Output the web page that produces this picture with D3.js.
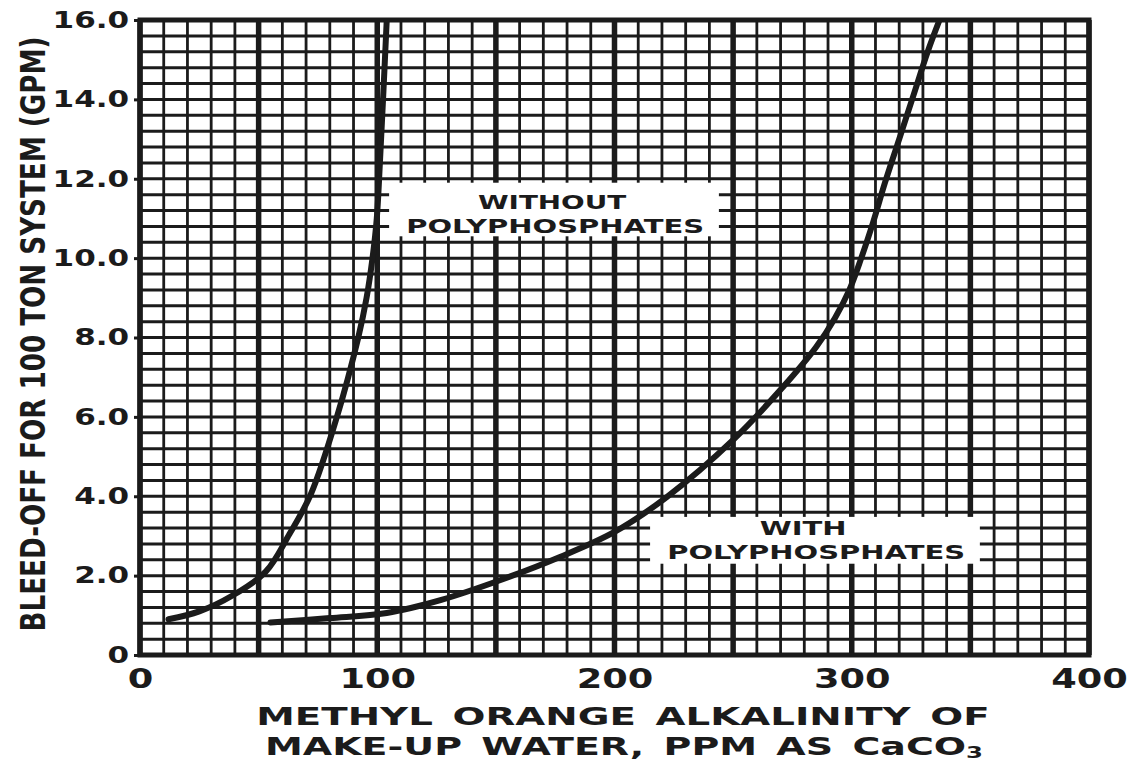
<!DOCTYPE html>
<html><head><meta charset="utf-8">
<script src="https://cdn.jsdelivr.net/npm/d3@7"></script>
<style>body{margin:0;background:#fff} svg{display:block}</style>
</head><body><svg id="c" width="1138" height="766"></svg>
<script>
// ---- data ----
const xTicks = [0, 100, 200, 300, 400];
const xTickLabels = ["0", "100", "200", "300", "400"];
const yTicks = [0, 2, 4, 6, 8, 10, 12, 14, 16];
const yTickLabels = ["0", "2.0", "4.0", "6.0", "8.0", "10.0", "12.0", "14.0", "16.0"];

const withoutX = [12, 25, 39, 53, 63, 72, 83, 92, 95.5, 98, 99.8, 101.2, 102.6, 104];
const withoutY = [0.9, 1.1, 1.5, 2.1, 3.05, 4.05, 6.0, 8.0, 9.0, 10.0, 11.0, 12.5, 14.2, 16.0];

const withX = [55, 80, 104, 127, 152, 177, 200, 222, 250, 271, 285, 293, 299, 304, 309, 314, 320, 326, 332, 337];
const withY = [0.82, 0.93, 1.06, 1.39, 1.89, 2.47, 3.1, 3.98, 5.42, 6.75, 7.76, 8.5, 9.2, 10.0, 10.9, 11.9, 13.0, 14.1, 15.2, 16.0];

const xTitle1 = "METHYL ORANGE ALKALINITY OF";
const xTitle2 = "MAKE-UP WATER, PPM AS CaCO";
const xTitle2Sub = "3";
const yTitle = "BLEED-OFF FOR 100 TON SYSTEM (GPM)";
const labelWithout = ["WITHOUT", "POLYPHOSPHATES"];
const labelWith = ["WITH", "POLYPHOSPHATES"];

// ---- drawing ----
const ink = "#1b1b1b";
const FONT = "'DejaVu Sans', sans-serif";
const svg = d3.select("#c");
svg.append("rect").attr("width", 1138).attr("height", 766).attr("fill", "#fff");

const x = d3.scaleLinear().domain([0, 400]).range([140, 1089]);
const y = d3.scaleLinear().domain([0, 16]).range([655, 20]);

const grid = svg.append("g");
// horizontal lines every 0.4
grid.selectAll("line.h").data(d3.range(0, 41).map(i => i * 0.4)).join("line")
  .attr("x1", x(0)).attr("x2", x(400))
  .attr("y1", d => y(d)).attr("y2", d => y(d))
  .attr("stroke", ink).attr("stroke-width", 3);
// vertical lines every 10, heavier every 50
grid.selectAll("line.v").data(d3.range(0, 41).map(i => i * 10)).join("line")
  .attr("x1", d => x(d)).attr("x2", d => x(d))
  .attr("y1", y(0)).attr("y2", y(16))
  .attr("stroke", ink)
  .attr("stroke-width", d => d % 50 === 0 ? 5.5 : 2.8);
// frame
svg.append("rect").attr("x", x(0)).attr("y", y(16))
  .attr("width", x(400) - x(0)).attr("height", y(0) - y(16))
  .attr("fill", "none").attr("stroke", ink).attr("stroke-width", 5);

// label boxes
function noteBox(x0, x1, y0, y1) {
  svg.append("rect").attr("x", x(x0)).attr("y", y(y1))
    .attr("width", x(x1) - x(x0)).attr("height", y(y0) - y(y1))
    .attr("fill", "#fff");
}
noteBox(105, 244, 10.55, 11.9);
noteBox(215, 354, 2.3, 3.48);

function noteText(txt, cx, by, sx) {
  svg.append("text")
    .attr("transform", `translate(${x(cx)},${y(by)}) scale(${sx},1)`)
    .attr("text-anchor", "middle")
    .attr("font-family", FONT).attr("font-weight", "bold")
    .attr("font-size", 20).attr("fill", ink)
    .text(txt);
}
noteText(labelWithout[0], 173.7, 11.23, 1.39);
noteText(labelWithout[1], 175, 10.63, 1.45);
noteText(labelWith[0], 279.5, 3.02, 1.45);
noteText(labelWith[1], 285, 2.42, 1.45);

// curves
svg.append("clipPath").attr("id", "pc").append("rect")
  .attr("x", x(0)).attr("y", y(16)).attr("width", x(400) - x(0)).attr("height", y(0) - y(16));
const line = d3.line().x(d => x(d[0])).y(d => y(d[1])).curve(d3.curveCatmullRom.alpha(0.5));
svg.append("path").datum(d3.zip(withoutX, withoutY)).attr("d", line)
  .attr("fill", "none").attr("stroke", ink).attr("stroke-width", 6)
  .attr("stroke-linecap", "round").attr("clip-path", "url(#pc)");
svg.append("path").datum(d3.zip(withX, withY)).attr("d", line)
  .attr("fill", "none").attr("stroke", ink).attr("stroke-width", 6)
  .attr("stroke-linecap", "round").attr("clip-path", "url(#pc)");

// axes
const xAxis = svg.append("g").attr("transform", `translate(0,${y(0)})`)
  .call(d3.axisBottom(x).tickValues(xTicks).tickFormat((d, i) => xTickLabels[i]).tickSize(0).tickPadding(14));
xAxis.select(".domain").remove();
xAxis.selectAll("text").attr("font-family", FONT).attr("font-weight", "bold")
  .attr("font-size", 27).attr("fill", ink).attr("transform", "scale(1.36,1)");

const yAxis = svg.append("g").attr("transform", `translate(${x(0)},0)`)
  .call(d3.axisLeft(y).tickValues(yTicks).tickFormat((d, i) => yTickLabels[i]).tickSize(6).tickPadding(2));
yAxis.select(".domain").remove();
yAxis.selectAll("line").attr("stroke", ink).attr("stroke-width", 3);
yAxis.selectAll("text").attr("font-family", FONT).attr("font-weight", "bold")
  .attr("font-size", 23).attr("fill", ink).attr("transform", "scale(1.35,1)");

// axis titles
svg.append("text").attr("transform", "translate(623,725) scale(1.55,1)")
  .attr("text-anchor", "middle").attr("font-family", FONT).attr("font-weight", "bold")
  .attr("font-size", 25).attr("fill", ink).attr("word-spacing", 4).text(xTitle1);
const t2 = svg.append("text").attr("transform", "translate(624,755) scale(1.52,1)")
  .attr("text-anchor", "middle").attr("font-family", FONT).attr("font-weight", "bold")
  .attr("font-size", 25).attr("fill", ink).attr("word-spacing", 4);
t2.append("tspan").text(xTitle2);
t2.append("tspan").attr("font-size", 16).attr("dy", 3).text(xTitle2Sub);

svg.append("text").attr("transform", "translate(45,334) rotate(-90) scale(0.77,1)")
  .attr("text-anchor", "middle").attr("font-family", FONT).attr("font-weight", "bold")
  .attr("font-size", 34).attr("fill", ink).text(yTitle);
</script>
</body></html>
